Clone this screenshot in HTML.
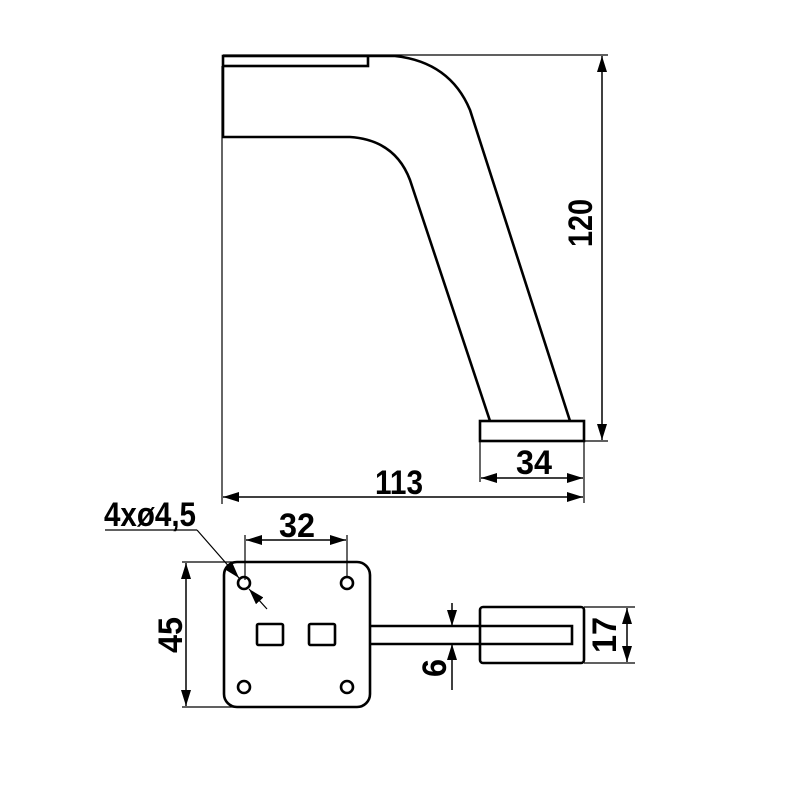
<!DOCTYPE html>
<html><head><style>body{margin:0;background:#fff}svg{display:block}
text{font-family:"Liberation Sans",sans-serif;font-weight:bold;font-size:34px;fill:#000}</style></head>
<body>
<svg width="800" height="800" viewBox="0 0 800 800" xmlns="http://www.w3.org/2000/svg">
<defs>
<marker id="a" viewBox="0 0 16 10" refX="16" refY="5" markerWidth="16" markerHeight="10" markerUnits="userSpaceOnUse" orient="auto-start-reverse"><path d="M0,0L16,5L0,10z" fill="#000"/></marker>
</defs>
<g fill="none" stroke="#000">
<line x1="223" y1="55" x2="608" y2="55" stroke-width="1.2"/>
<line x1="222" y1="66" x2="222" y2="504" stroke-width="1.2"/>
<line x1="584" y1="441" x2="608" y2="441" stroke-width="1.2"/>
<line x1="480" y1="441" x2="480" y2="482" stroke-width="1.2"/>
<line x1="584" y1="441" x2="584" y2="503" stroke-width="1.2"/>
<g stroke-width="2.6">
<rect x="223" y="56" width="145" height="10"/>
<path d="M223,66 V137 H350 Q395,140 410,180 L490,421"/>
<path d="M368,56 H395 Q450,62 470,110 L570,421"/>
<rect x="480" y="421" width="104" height="20"/>
</g>
<line x1="602" y1="56" x2="602" y2="440" stroke-width="1.5" marker-start="url(#a)" marker-end="url(#a)"/>
<line x1="481" y1="478" x2="583" y2="478" stroke-width="1.5" marker-start="url(#a)" marker-end="url(#a)"/>
<line x1="223" y1="497" x2="583" y2="497" stroke-width="1.5" marker-start="url(#a)" marker-end="url(#a)"/>
<g stroke-width="2.6">
<rect x="224" y="562" width="146" height="145" rx="13"/>
<circle cx="244" cy="583" r="6"/><circle cx="347" cy="583" r="6"/>
<circle cx="244" cy="687" r="6"/><circle cx="347" cy="687" r="6"/>
<rect x="257" y="624" width="26" height="21" rx="1.5"/>
<rect x="309" y="624" width="26" height="21" rx="1.5"/>
<path d="M370,626 H572 V644 H370"/>
<rect x="480" y="607" width="104" height="56" rx="3"/>
</g>
<line x1="182" y1="562" x2="236" y2="562" stroke-width="1.2"/>
<line x1="182" y1="707" x2="240" y2="707" stroke-width="1.2"/>
<line x1="186" y1="563" x2="186" y2="706" stroke-width="1.5" marker-start="url(#a)" marker-end="url(#a)"/>
<line x1="245" y1="535" x2="245" y2="580" stroke-width="1.2"/>
<line x1="347" y1="535" x2="347" y2="578" stroke-width="1.2"/>
<line x1="246" y1="540" x2="346" y2="540" stroke-width="1.5" marker-start="url(#a)" marker-end="url(#a)"/>
<line x1="584" y1="607" x2="635" y2="607" stroke-width="1.2"/>
<line x1="584" y1="663" x2="635" y2="663" stroke-width="1.2"/>
<line x1="627" y1="608" x2="627" y2="662" stroke-width="1.5" marker-start="url(#a)" marker-end="url(#a)"/>
<line x1="452" y1="603" x2="452" y2="626" stroke-width="1.5" marker-end="url(#a)"/>
<line x1="452" y1="690" x2="452" y2="644" stroke-width="1.5" marker-end="url(#a)"/>
<line x1="105" y1="530" x2="197" y2="530" stroke-width="1.2"/>
<line x1="197" y1="530" x2="239" y2="578" stroke-width="1.2" marker-end="url(#a)"/>
<line x1="267" y1="609" x2="249" y2="589" stroke-width="1.2" marker-end="url(#a)"/>
</g>
<g transform="rotate(-90 580 223)"><text x="556" y="235" textLength="48" lengthAdjust="spacingAndGlyphs">120</text></g>
<text x="516" y="474" textLength="36" lengthAdjust="spacingAndGlyphs">34</text>
<text x="375" y="494" textLength="48" lengthAdjust="spacingAndGlyphs">113</text>
<text x="279" y="537" textLength="36" lengthAdjust="spacingAndGlyphs">32</text>
<text x="104" y="526" textLength="92" lengthAdjust="spacingAndGlyphs">4xø4,5</text>
<g transform="rotate(-90 170 635)"><text x="152" y="647" textLength="36" lengthAdjust="spacingAndGlyphs">45</text></g>
<g transform="rotate(-90 604 635)"><text x="586" y="647" textLength="36" lengthAdjust="spacingAndGlyphs">17</text></g>
<g transform="rotate(-90 434 668)"><text x="425" y="680" textLength="18" lengthAdjust="spacingAndGlyphs">6</text></g>
</svg>
</body></html>
